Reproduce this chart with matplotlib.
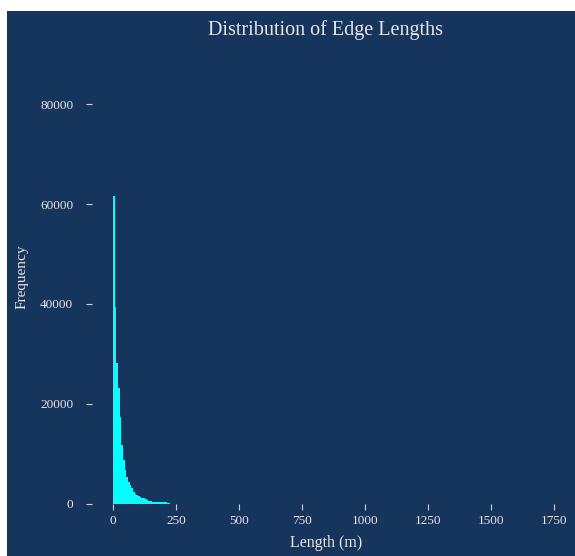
import numpy as np
import matplotlib.pyplot as plt
from matplotlib.patches import Rectangle

plt.rcParams['font.family'] = ['Liberation Serif', 'DejaVu Serif']

bg = '#16355c'
fg = '#e6e6e6'

# histogram of edge lengths (m), bins of equal width starting at 0
bin_width = 6.67
head_counts = [61600, 39400, 28300, 23200, 17400, 11800, 8800, 6800, 5400, 4400,
               3800, 3200, 2400, 2100, 1800, 1600, 1400, 1300, 1200, 1000,
               800, 700, 600, 500, 400, 380, 360, 350, 340, 330, 320, 310, 300, 290]
tail_counts = [90, 80, 70, 60, 50, 45, 40, 35, 30, 28, 25, 22, 20, 18, 16,
               14, 12, 10, 9, 8, 7, 6, 5, 5, 4, 4, 3, 3, 2, 2]
# a handful of very long edges
long_lengths = [612, 845, 1103, 1390, 1663]
long_counts = [2, 1, 1, 1, 1]

x_ticks = [0, 250, 500, 750, 1000, 1250, 1500, 1750]
y_ticks = [0, 20000, 40000, 60000, 80000]

counts = head_counts + tail_counts
centers = (np.arange(len(counts)) + 0.5) * bin_width
values = np.concatenate([centers, long_lengths])
weights = np.concatenate([counts, long_counts])
edges = np.arange(0, max(long_lengths) + bin_width, bin_width)

fig = plt.figure(figsize=(5.75, 5.56), dpi=100, facecolor='white')
# the screenshot has a thin white strip on the top and left
fig.patches.append(Rectangle((7 / 575, -0.05), 1.1, 1.05 - 11 / 556, transform=fig.transFigure,
                             facecolor=bg, edgecolor='none', zorder=-5))

ax = fig.add_axes([92 / 575, 52 / 556, (566.5 - 92) / 575, (504 - 54) / 556])
ax.set_facecolor(bg)
ax.hist(values, bins=edges, weights=weights, histtype='stepfilled',
        color='#00ffff', linewidth=0)

ax.set_xlim(-83, 1800)
ax.set_ylim(0, 90000)
ax.set_xticks(x_ticks)
ax.set_yticks(y_ticks)
for s in ax.spines.values():
    s.set_visible(False)
ax.tick_params(colors='#d0d0d0', labelcolor=fg, labelsize=9.5, length=4.5, width=0.8)
ax.tick_params(axis='y', pad=9)

fig.text(325.5 / 575, 1 - 30 / 556, 'Distribution of Edge Lengths', color=fg,
         fontsize=14.5, ha='center', va='center')
fig.text(326 / 575, 1 - 543 / 556, 'Length (m)', color=fg, fontsize=11.5,
         ha='center', va='center')
fig.text(22 / 575, 1 - 277 / 556, 'Frequency', color=fg, fontsize=11,
         rotation=90, ha='center', va='center')

fig.savefig('out.png', dpi=100, facecolor=fig.get_facecolor())
